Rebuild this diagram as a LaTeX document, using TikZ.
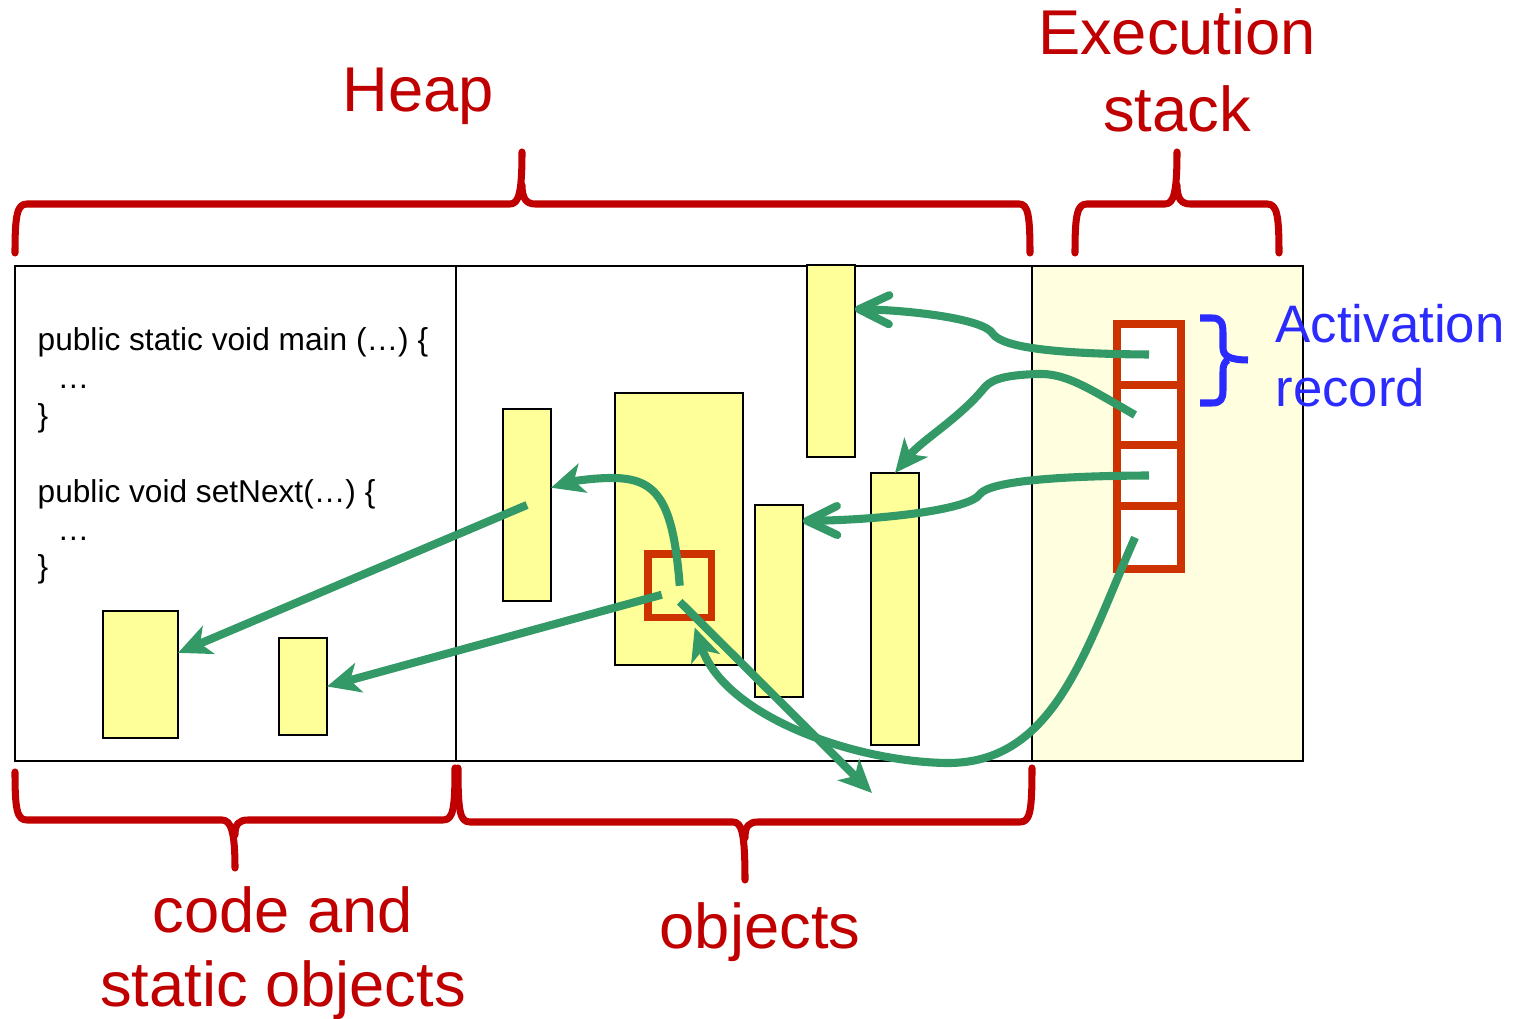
\documentclass[tikz,border=0pt]{standalone}
\usepackage{fontspec}
\setmainfont{Liberation Sans}
\usetikzlibrary{arrows.meta,fit,calc}
\definecolor{braceRed}{HTML}{C00000}
\definecolor{cellRed}{HTML}{CC3300}
\definecolor{ptrGreen}{HTML}{339966}
\definecolor{objYellow}{HTML}{FFFF99}
\definecolor{stackBg}{HTML}{FFFFE0}
\definecolor{noteBlue}{HTML}{2B2BFF}

\begin{document}
\begin{tikzpicture}[x=0.01cm,y=-0.01cm,
  region/.style={draw=black,line width=0.5pt,inner sep=0pt,outer sep=0pt},
  obj/.style={draw=black,fill=objYellow,line width=0.45pt,inner sep=0pt,outer sep=0pt},
  cell/.style={draw=cellRed,fill=white,line width=2.1pt,inner sep=0pt,outer sep=0pt},
  refbox/.style={draw=cellRed,line width=2.1pt,inner sep=0pt,outer sep=0pt},
  curly/.style={draw=braceRed,line width=2pt,line cap=round,line join=round},
  ptr/.style={draw=ptrGreen,line width=2.3pt},
  openhead/.style={-{Straight Barb[length=3mm,width=2.9mm,round]}},
  filledhead/.style={-{Stealth[length=3.3mm,width=3mm,inset=0.9mm]}},
  headline/.style={text=braceRed,inner sep=0pt,align=center},
]
\useasboundingbox (0,0) rectangle (1517,1019);

% memory regions
\node[region,fit={(15,266) (456,761)}] (code) {};
\node[region,fit={(456,266) (1032,761)}] (objs) {};
\node[region,fill=stackBg,fit={(1032,266) (1303,761)}] (stack) {};

% static objects
\node[obj,fit={(103,611) (178,738)}] (A) {};
\node[obj,fit={(279,638) (327,735)}] (B) {};

% heap objects
\node[obj,fit={(503,409) (551,601)}] (C) {};
\node[obj,fit={(615,393) (743,665)}] (D) {};
\node[obj,fit={(755,505) (803,697)}] (E) {};
\node[obj,fit={(807,265) (855,457)}] (F) {};
\node[obj,fit={(871,473) (919,745)}] (G) {};
\node[refbox,fit={(648,554) (711.5,617.5)}] (ref) {};

% activation records on the stack
\node[cell,fit={(1117,324) (1181,385)}] (c1) {};
\node[cell,fit={(1117,385) (1181,445)}] (c2) {};
\node[cell,fit={(1117,445) (1181,506)}] (c3) {};
\node[cell,fit={(1117,506) (1181,569)}] (c4) {};

% source code in the code area (base anchor = last line)
\node[anchor=base west,align=left,inner sep=0pt,font=\fontsize{9}{10.8}\selectfont] (src) at (37,578)
  {public static void main (…) \{\\ \hspace*{0.2cm}…\\ \}\\ \mbox{}\\ public void setNext(…) \{\\ \hspace*{0.2cm}…\\ \}};

% titles
\node[headline,anchor=base,font=\fontsize{18}{21.9}\selectfont] (heapT) at (418,112) {Heap};
\node[headline,anchor=base,font=\fontsize{18}{21.9}\selectfont] (execT) at (1177,132) {Execution\\stack};
\node[headline,anchor=base,font=\fontsize{18}{21.3}\selectfont] (codeT) at (283,1007) {code and\\static objects};
\node[headline,anchor=base,font=\fontsize{18}{21.3}\selectfont] (objT) at (760,949) {objects};
\node[text=noteBlue,anchor=base west,align=left,inner sep=0pt,font=\fontsize{15}{18.2}\selectfont] (actT) at (1275,407) {Activation\\record};

% braces
\draw[curly] (15,253) .. controls (15,215) and (17,204) .. (27,204) -- (510,204)
  .. controls (519,204) and (522,192) .. (522,152)
  (522,185) .. controls (522,198) and (526,204) .. (535,204) -- (1019,204)
  .. controls (1028,204) and (1030,215) .. (1030,253);
\draw[curly] (1075,253) .. controls (1075,215) and (1077,204) .. (1087,204) -- (1165,204)
  .. controls (1174,204) and (1177,192) .. (1177,152)
  (1177,185) .. controls (1177,198) and (1181,204) .. (1190,204) -- (1267,204)
  .. controls (1277,204) and (1279,215) .. (1279,253);
\draw[curly] (15,772) .. controls (15,810) and (17,820) .. (27,820) -- (222,820)
  .. controls (231,820) and (235,832) .. (235,868)
  (235,835) .. controls (235,824) and (239,820) .. (248,820) -- (443,820)
  .. controls (453,820) and (455,810) .. (455,768);
\draw[curly] (458,768) .. controls (458,812) and (460,822) .. (470,822) -- (733,822)
  .. controls (742,822) and (745,834) .. (745,880)
  (745,838) .. controls (745,826) and (749,822) .. (758,822) -- (1020,822)
  .. controls (1030,822) and (1032,812) .. (1032,768);
\draw[draw=noteBlue,line width=2pt,line join=round] (1200,318) -- (1212,318)
  .. controls (1221,318) and (1223,323) .. (1223,333) -- (1223,348)
  .. controls (1223,356) and (1230,360) .. (1248,360)
  (1228,360) .. controls (1224,362) and (1223,366) .. (1223,372) -- (1223,390)
  .. controls (1223,399) and (1221,403) .. (1212,403) -- (1200,403);

% connector end points
\coordinate (inF) at ($(F.north east)!0.23!(F.south east)$);
\coordinate (inE) at ($(E.north east)!0.083!(E.south east)$);
\coordinate (inC) at ($(C.north east)!0.41!(C.south east)$);
\coordinate (inA) at ($(A.north east)!0.33!(A.south east)$);
\coordinate (out2) at ($(c2.center)+(-14,0)$);
\coordinate (out4) at ($(c4.center)+(-14,0)$);
\coordinate (in4) at ($(ref.south)+(15,10)$);
\coordinate (out5) at ($(ref.center)+(0,16)$);
\coordinate (out7) at ($(ref.center)+(-18,9)$);
\coordinate (end5) at (872,793);

% references
\draw[ptr,openhead] (c1.center) .. controls (1060,354) and (1003,348) .. (993,334)
  .. controls (984,318) and (905,310) .. (inF);
\draw[ptr,filledhead] (out2) .. controls (1085,386) and (1065,373) .. (1037,374)
  .. controls (1010,375) and (993,378) .. (985,387)
  .. controls (960,418) and (922,440) .. (G.north);
\draw[ptr,openhead] (c3.center) .. controls (1050,476) and (990,482) .. (980,494)
  .. controls (970,510) and (880,520) .. (inE);
\draw[ptr,filledhead] (out4) .. controls (1085,650) and (1055,765) .. (945,763)
  .. controls (850,761) and (725,715) .. (in4);
\draw[ptr,filledhead] (out5) -- (end5);
\draw[ptr,filledhead] (ref.center) .. controls (673,500) and (657,478) .. (612,478)
  .. controls (590,478) and (570,482) .. (inC);
\draw[ptr,filledhead] (out7) -- (B.east);
\draw[ptr,filledhead] (C.center) -- (inA);
\end{tikzpicture}
\end{document}
